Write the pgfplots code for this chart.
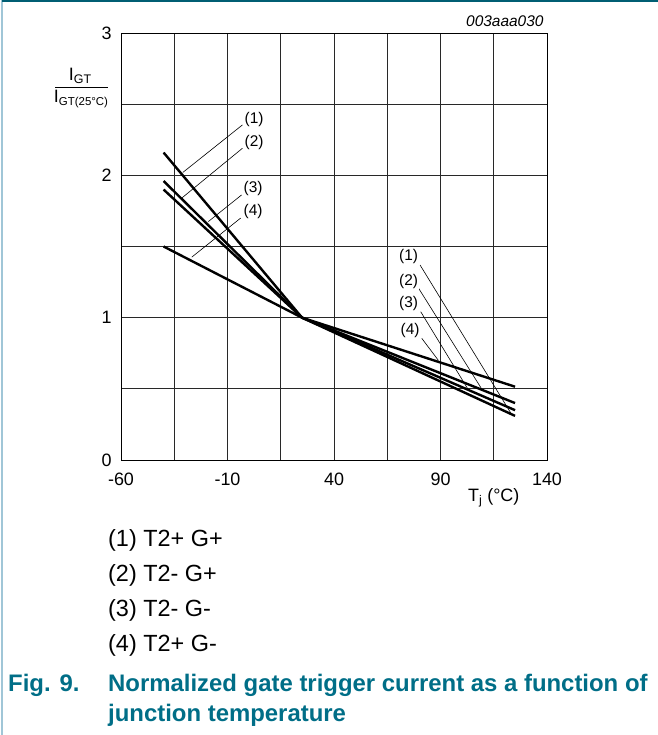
\documentclass[border=0pt]{standalone}
\usepackage{fontspec}
\setmainfont{Liberation Sans}
\usepackage{pgfplots}
\pgfplotsset{compat=1.18}

\definecolor{figteal}{RGB}{0,110,135}
\definecolor{frameblue}{RGB}{160,198,215}
\definecolor{gridgray}{RGB}{40,40,40}

\begin{document}
\begin{tikzpicture}[x=1bp,y=1bp]
\useasboundingbox (0,0) rectangle (658,-735);
% page frame
\draw[frameblue, line width=1.5bp] (2,0) -- (2,-735);
\draw[figteal!85!black, line width=1.5bp] (2,-1) -- (658,-1);

\begin{axis}[
  at={(121bp,-33bp)}, anchor=north west,
  scale only axis, width=426bp, height=427bp,
  xmin=-60, xmax=140, ymin=0, ymax=3,
  xtick={-60,-10,40,90,140},
  minor xtick={-35,15,65,115},
  ytick={0,1,2,3},
  minor ytick={0.5,1.5,2.5},
  grid=both,
  major grid style={gridgray, line width=0.7bp},
  minor grid style={gridgray, line width=0.7bp},
  axis line style={black, line width=0.8bp},
  major tick length=0pt, minor tick length=0pt,
  /pgf/number format/assume math mode=true,
  ticklabel style={font=\fontsize{18}{20}\selectfont},
  xticklabel style={yshift=-9bp},
  yticklabel style={xshift=-6bp},
  clip=false,
]
% normalized gate trigger current, one curve per trigger quadrant
\addplot[black, line width=2.4bp] coordinates {(-40,2.16) (25,1) (125,0.31)};
\addplot[black, line width=2.4bp] coordinates {(-40,1.96) (25,1) (125,0.40)};
\addplot[black, line width=2.4bp] coordinates {(-40,1.90) (25,1) (125,0.35)};
\addplot[black, line width=2.4bp] coordinates {(-40,1.50) (25,1) (125,0.515)};

% leader lines
\draw[black, line width=0.6bp] (axis cs:-3,2.354) -- (axis cs:-31,2.02);
\draw[black, line width=0.6bp] (axis cs:-3,2.19) -- (axis cs:-31.5,1.84);
\draw[black, line width=0.6bp] (axis cs:-3.4,1.862) -- (axis cs:-19,1.675);
\draw[black, line width=0.6bp] (axis cs:-3.8,1.70) -- (axis cs:-26.8,1.425);
\draw[black, line width=0.6bp] (axis cs:80.4,1.37) -- (axis cs:123,0.33);
\draw[black, line width=0.6bp] (axis cs:79.7,1.207) -- (axis cs:109.3,0.50);
\draw[black, line width=0.6bp] (axis cs:80.7,1.042) -- (axis cs:103,0.495);
\draw[black, line width=0.6bp] (axis cs:81.2,0.855) -- (axis cs:89,0.70);

\tikzset{curvelabel/.style={fill=white, inner sep=1.5bp, font=\fontsize{15.5}{17}\selectfont}}
\node[curvelabel] at (axis cs:2.5,2.39) {(1)};
\node[curvelabel] at (axis cs:2.5,2.23) {(2)};
\node[curvelabel] at (axis cs:2,1.91) {(3)};
\node[curvelabel] at (axis cs:2,1.745) {(4)};
\node[curvelabel] at (axis cs:75,1.43) {(1)};
\node[curvelabel] at (axis cs:75,1.253) {(2)};
\node[curvelabel] at (axis cs:75,1.10) {(3)};
\node[curvelabel] at (axis cs:75.7,0.909) {(4)};

% axis titles
\node[font=\fontsize{18}{20}\selectfont] at (axis cs:115,0) [yshift=-38bp] {T\textsubscript{j} (°C)};
\node[anchor=south east, font=\fontsize{15.5}{17}\selectfont\itshape] at (rel axis cs:1,1) [yshift=3bp] {003aaa030};
\end{axis}

% y axis quantity as a fraction
\node[font=\fontsize{18}{20}\selectfont] at (80,-76) {I\raisebox{-3.5bp}{\fontsize{12.5}{13}\selectfont GT}};
\draw[black, line width=0.9bp] (55,-87) -- (108,-87);
\node[font=\fontsize{18}{20}\selectfont] at (81,-99) {I\raisebox{-3.5bp}{\fontsize{11.5}{13}\selectfont GT(25°C)}};

% key
\begin{scope}[every node/.style={anchor=west, inner sep=0, font=\fontsize{23.5}{25}\selectfont}]
\node at (108,-540) {(1) T2+ G+};
\node at (108,-575) {(2) T2- G+};
\node at (108,-610) {(3) T2- G-};
\node at (108,-645) {(4) T2+ G-};
\end{scope}

% caption
\begin{scope}[every node/.style={anchor=west, inner sep=0, text=figteal, font=\fontsize{24}{26}\selectfont\bfseries}]
\node at (8,-685) {Fig. 9.};
\node at (108,-685) {Normalized gate trigger current as a function of};
\node at (108,-715) {junction temperature};
\end{scope}
\end{tikzpicture}
\end{document}
